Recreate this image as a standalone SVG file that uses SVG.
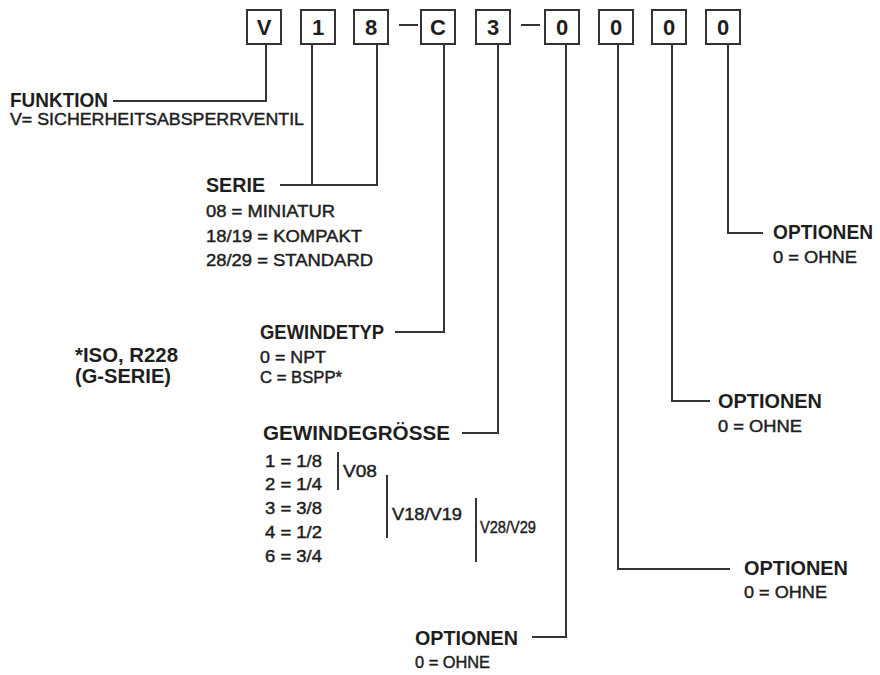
<svg xmlns="http://www.w3.org/2000/svg" width="880" height="675" viewBox="0 0 880 675">
<style>
.bg{fill:#ffffff}
.box{fill:#ffffff;stroke:#333;stroke-width:2}
.ch{font-family:"Liberation Sans",Arial,sans-serif;font-weight:bold;font-size:22px;fill:#1e1e1e;text-anchor:middle}
.h{font-family:"Liberation Sans",Arial,sans-serif;font-weight:bold;font-size:19.5px;fill:#1e1e1e}
.t{font-family:"Liberation Sans",Arial,sans-serif;font-size:17px;fill:#1e1e1e;stroke:#1e1e1e;stroke-width:0.45}
.ln{fill:none;stroke:#353535;stroke-width:2}
</style>
<rect class="bg" x="0" y="0" width="880" height="675"/>
<g id="code">
<g id="box-V"><rect class="box" x="247" y="10" width="34" height="34"/><text class="ch" x="264" y="35">V</text></g>
<g id="box-1"><rect class="box" x="301" y="10" width="34" height="34"/><text class="ch" x="318" y="35">1</text></g>
<g id="box-8"><rect class="box" x="354" y="10" width="34" height="34"/><text class="ch" x="371" y="35">8</text></g>
<g id="box-C"><rect class="box" x="421" y="10" width="34" height="34"/><text class="ch" x="438" y="35">C</text></g>
<g id="box-3"><rect class="box" x="476" y="10" width="34" height="34"/><text class="ch" x="493" y="35">3</text></g>
<g id="box-0a"><rect class="box" x="545" y="10" width="34" height="34"/><text class="ch" x="562" y="35">0</text></g>
<g id="box-0b"><rect class="box" x="599" y="10" width="34" height="34"/><text class="ch" x="616" y="35">0</text></g>
<g id="box-0c"><rect class="box" x="652" y="10" width="34" height="34"/><text class="ch" x="669" y="35">0</text></g>
<g id="box-0d"><rect class="box" x="706" y="10" width="34" height="34"/><text class="ch" x="723" y="35">0</text></g>
</g>
<g id="connectors">
<path class="ln" d="M399 25H418M521 25H540"/>
<path class="ln" d="M113 101H266V44"/>
<path class="ln" d="M312 44V185M280 185H377V44"/>
<path class="ln" d="M395 332H444V44"/>
<path class="ln" d="M462 433H498V44"/>
<path class="ln" d="M532 637H566V44"/>
<path class="ln" d="M618 44V569H730"/>
<path class="ln" d="M672 44V401H710"/>
<path class="ln" d="M728 44V233H763"/>
<path class="ln" d="M338 452V490M387 475V538M476 498V562"/>
</g>
<g id="funktion">
<text class="h" x="10" y="107" textLength="98" lengthAdjust="spacingAndGlyphs">FUNKTION</text>
<text class="t" x="10" y="125" textLength="294" lengthAdjust="spacingAndGlyphs">V= SICHERHEITSABSPERRVENTIL</text>
</g>
<g id="serie">
<text class="h" x="206" y="192" textLength="59" lengthAdjust="spacingAndGlyphs">SERIE</text>
<text class="t" x="206" y="217" textLength="129" lengthAdjust="spacingAndGlyphs">08 = MINIATUR</text>
<text class="t" x="206" y="242" textLength="156" lengthAdjust="spacingAndGlyphs">18/19 = KOMPAKT</text>
<text class="t" x="206" y="266" textLength="167" lengthAdjust="spacingAndGlyphs">28/29 = STANDARD</text>
</g>
<g id="note">
<text class="h" x="75" y="362" textLength="103" lengthAdjust="spacingAndGlyphs">*ISO, R228</text>
<text class="h" x="75" y="383" textLength="96" lengthAdjust="spacingAndGlyphs">(G-SERIE)</text>
</g>
<g id="gewindetyp">
<text class="h" x="260" y="339" textLength="124" lengthAdjust="spacingAndGlyphs">GEWINDETYP</text>
<text class="t" x="260" y="363" textLength="66" lengthAdjust="spacingAndGlyphs">0 = NPT</text>
<text class="t" x="260" y="383" textLength="82" lengthAdjust="spacingAndGlyphs">C = BSPP*</text>
</g>
<g id="gewindegroesse">
<text class="h" x="263" y="440" textLength="187" lengthAdjust="spacingAndGlyphs">GEWINDEGRÖSSE</text>
<text class="t" x="265" y="467" textLength="57" lengthAdjust="spacingAndGlyphs">1 = 1/8</text>
<text class="t" x="265" y="490" textLength="57" lengthAdjust="spacingAndGlyphs">2 = 1/4</text>
<text class="t" x="265" y="514" textLength="57" lengthAdjust="spacingAndGlyphs">3 = 3/8</text>
<text class="t" x="265" y="538" textLength="57" lengthAdjust="spacingAndGlyphs">4 = 1/2</text>
<text class="t" x="265" y="562" textLength="57" lengthAdjust="spacingAndGlyphs">6 = 3/4</text>
<text class="t" x="343" y="477" textLength="34" lengthAdjust="spacingAndGlyphs">V08</text>
<text class="t" x="392" y="520" textLength="70" lengthAdjust="spacingAndGlyphs">V18/V19</text>
<text class="t" x="480" y="533" textLength="56" lengthAdjust="spacingAndGlyphs">V28/V29</text>
</g>
<g id="optionen-1">
<text class="h" x="415" y="645" textLength="103" lengthAdjust="spacingAndGlyphs">OPTIONEN</text>
<text class="t" x="415" y="668" textLength="75" lengthAdjust="spacingAndGlyphs">0 = OHNE</text>
</g>
<g id="optionen-2">
<text class="h" x="744" y="575" textLength="104" lengthAdjust="spacingAndGlyphs">OPTIONEN</text>
<text class="t" x="744" y="598" textLength="83" lengthAdjust="spacingAndGlyphs">0 = OHNE</text>
</g>
<g id="optionen-3">
<text class="h" x="718" y="408" textLength="104" lengthAdjust="spacingAndGlyphs">OPTIONEN</text>
<text class="t" x="718" y="432" textLength="84" lengthAdjust="spacingAndGlyphs">0 = OHNE</text>
</g>
<g id="optionen-4">
<text class="h" x="773" y="239" textLength="100" lengthAdjust="spacingAndGlyphs">OPTIONEN</text>
<text class="t" x="773" y="263" textLength="84" lengthAdjust="spacingAndGlyphs">0 = OHNE</text>
</g>
</svg>
